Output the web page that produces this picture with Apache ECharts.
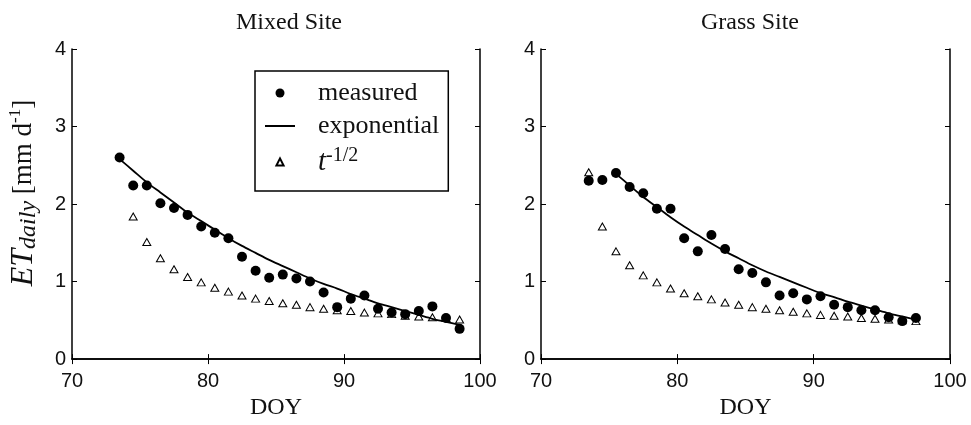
<!DOCTYPE html>
<html>
<head>
<meta charset="utf-8">
<style>
  html, body { margin: 0; padding: 0; background: #fff; }
  #chart { width: 971px; height: 425px; }
</style>
<script src="https://cdn.jsdelivr.net/npm/echarts@6/dist/echarts.min.js"></script>
</head>
<body>
<div id="chart"></div>
<script>
// Day of year for the mixed site record
const doyMixed = [73.5, 74.5, 75.5, 76.5, 77.5, 78.5, 79.5, 80.5, 81.5, 82.5, 83.5, 84.5, 85.5,
                  86.5, 87.5, 88.5, 89.5, 90.5, 91.5, 92.5, 93.5, 94.5, 95.5, 96.5, 97.5, 98.5];
const mixedMeasured = [2.60, 2.24, 2.24, 2.01, 1.95, 1.86, 1.71, 1.63, 1.56, 1.32, 1.14, 1.05, 1.09,
                       1.04, 1.00, 0.86, 0.67, 0.78, 0.82, 0.65, 0.60, 0.58, 0.62, 0.68, 0.53, 0.39];
const mixedExponential = [2.58, 2.43, 2.28, 2.15, 2.02, 1.89, 1.78, 1.67, 1.56, 1.46, 1.37, 1.28, 1.20,
                          1.12, 1.04, 0.97, 0.91, 0.84, 0.78, 0.72, 0.67, 0.62, 0.57, 0.52, 0.48, 0.44];
const mixedSqrt = [null, 1.84, 1.51, 1.30, 1.16, 1.06, 0.99, 0.92, 0.87, 0.82, 0.78, 0.75, 0.72,
                   0.70, 0.67, 0.65, 0.63, 0.62, 0.60, 0.59, 0.58, 0.56, 0.55, 0.54, 0.53, 0.51];

// Day of year for the grass site record
const doyGrass = [73.5, 74.5, 75.5, 76.5, 77.5, 78.5, 79.5, 80.5, 81.5, 82.5, 83.5, 84.5, 85.5,
                  86.5, 87.5, 88.5, 89.5, 90.5, 91.5, 92.5, 93.5, 94.5, 95.5, 96.5, 97.5];
const grassMeasured = [2.30, 2.31, 2.40, 2.22, 2.14, 1.94, 1.94, 1.56, 1.39, 1.60, 1.42, 1.16, 1.11,
                       0.99, 0.82, 0.85, 0.77, 0.81, 0.70, 0.67, 0.63, 0.63, 0.54, 0.49, 0.53];
const grassSqrt = [2.41, 1.71, 1.39, 1.21, 1.08, 0.99, 0.91, 0.85, 0.81, 0.77, 0.73, 0.70, 0.67,
                   0.65, 0.63, 0.61, 0.59, 0.57, 0.56, 0.55, 0.53, 0.52, 0.51, 0.50, 0.49];
const doyGrassFit = [75.5, 76.5, 77.5, 78.5, 79.5, 80.5, 81.5, 82.5, 83.5, 84.5, 85.5, 86.5,
                     87.5, 88.5, 89.5, 90.5, 91.5, 92.5, 93.5, 94.5, 95.5, 96.5, 97.5];
const grassExponential = [2.39, 2.24, 2.09, 1.96, 1.83, 1.71, 1.60, 1.49, 1.39, 1.30, 1.21, 1.13,
                          1.06, 0.99, 0.92, 0.85, 0.80, 0.74, 0.69, 0.64, 0.59, 0.55, 0.51];

const panelTitles = ['Mixed Site', 'Grass Site'];
const xTicks = { min: 70, max: 100, step: 10 };
const yTicks = { min: 0, max: 4, step: 1 };

function pairs(xs, ys) {
  const out = [];
  xs.forEach((x, i) => { if (ys[i] != null) out.push([x, ys[i]]); });
  return out;
}

const serif = '"Liberation Serif", "Times New Roman", serif';
const sans = '"Liberation Sans", Arial, sans-serif';
const ink = '#000';

function xAxes(gridIndex) {
  const base = {
    type: 'value', gridIndex,
    min: xTicks.min, max: xTicks.max, interval: xTicks.step,
    splitLine: { show: false },
    axisLine: { show: true, lineStyle: { color: ink, width: 1.5 } },
    axisTick: { show: true, inside: true, length: 5, lineStyle: { color: ink, width: 1 } }
  };
  return [
    Object.assign({}, base, {
      position: 'bottom',
      axisLabel: { fontFamily: sans, fontSize: 20, color: '#111', margin: 12 },
      name: 'DOY', nameLocation: 'middle', nameGap: 33,
      nameTextStyle: { fontFamily: serif, fontSize: 24, color: '#111' }
    }),
    Object.assign({}, base, { position: 'top', axisLabel: { show: false } })
  ];
}

function yAxes(gridIndex, withName) {
  const base = {
    type: 'value', gridIndex,
    min: yTicks.min, max: yTicks.max, interval: yTicks.step,
    splitLine: { show: false },
    axisLine: { show: true, lineStyle: { color: ink, width: 1.5 } },
    axisTick: { show: true, inside: true, length: 5, lineStyle: { color: ink, width: 1 } }
  };
  const left = Object.assign({}, base, {
    position: 'left',
    axisLabel: { fontFamily: sans, fontSize: 20, color: '#111', margin: 6 }
  });
  if (withName) {
    Object.assign(left, {
      name: '{it|ET}{sub|daily}{n| [mm d}{sup|-1}{n|]}',
      nameLocation: 'middle', nameGap: 31,
      nameTextStyle: {
        color: '#111',
        padding: [0, 0, 0, 22],
        rich: {
          it: { fontFamily: serif, fontStyle: 'italic', fontSize: 32, lineHeight: 34, color: '#111' },
          sub: { fontFamily: serif, fontStyle: 'italic', fontSize: 24, lineHeight: 16, verticalAlign: 'bottom', color: '#111' },
          n: { fontFamily: serif, fontSize: 27, lineHeight: 30, color: '#111' },
          sup: { fontFamily: serif, fontSize: 17, lineHeight: 12, verticalAlign: 'top', color: '#111' }
        }
      }
    });
  }
  return [left, Object.assign({}, base, { position: 'right', axisLabel: { show: false } })];
}

function panelSeries(axisIdx, doy, measured, fitDoy, fit, sqrt) {
  return [
    {
      name: 'measured', type: 'scatter', xAxisIndex: axisIdx, yAxisIndex: axisIdx,
      symbol: 'circle', symbolSize: 10,
      itemStyle: { color: ink, opacity: 1 },
      data: pairs(doy, measured), z: 3
    },
    {
      name: 'exponential', type: 'line', xAxisIndex: axisIdx, yAxisIndex: axisIdx,
      symbol: 'none', smooth: 0.3,
      lineStyle: { color: ink, width: 1.8 },
      itemStyle: { color: ink },
      data: pairs(fitDoy, fit), z: 4
    },
    {
      // symbols only: the connecting line is hidden
      name: 't-1/2', type: 'line', xAxisIndex: axisIdx, yAxisIndex: axisIdx,
      symbol: 'triangle', symbolSize: [8, 7], showSymbol: true, showAllSymbol: true,
      lineStyle: { width: 0, opacity: 0 },
      itemStyle: { color: 'rgba(255,255,255,0)', borderColor: ink, borderWidth: 1, opacity: 1 },
      data: pairs(doy, sqrt), z: 5
    }
  ];
}

const chart = echarts.init(document.getElementById('chart'), null, { renderer: 'canvas' });

chart.setOption({
  animation: false,
  backgroundColor: '#fff',
  title: [
    { text: panelTitles[0], left: 284, top: 6, textAlign: 'center',
      textStyle: { fontFamily: serif, fontSize: 24, fontWeight: 'normal', color: '#111' } },
    { text: panelTitles[1], left: 745, top: 6, textAlign: 'center',
      textStyle: { fontFamily: serif, fontSize: 24, fontWeight: 'normal', color: '#111' } }
  ],
  grid: [
    { left: 72, top: 49, width: 408, height: 320 },
    { left: 541, top: 49, width: 409, height: 320 }
  ],
  xAxis: [].concat(xAxes(0), xAxes(1)),
  yAxis: [].concat(yAxes(0, true), yAxes(1, false)),
  legend: {
    orient: 'vertical', left: 255, top: 71,
    padding: [9, 9, 13, 9], itemGap: 7,
    itemWidth: 30, itemHeight: 9,
    borderColor: ink, borderWidth: 1.5, backgroundColor: '#fff',
    selectedMode: false,
    data: [
      { name: 'measured', icon: 'circle' },
      { name: 'exponential', itemStyle: { opacity: 0 } },
      { name: 't-1/2' }
    ],
    formatter: function (name) {
      return name === 't-1/2' ? '{it|t}{sup|-1/2}' : name;
    },
    textStyle: {
      fontFamily: serif, fontSize: 26, lineHeight: 26, color: '#111',
      padding: [0, 0, 0, 18],
      rich: {
        it: { fontFamily: serif, fontStyle: 'italic', fontSize: 29, lineHeight: 32, color: '#111' },
        sup: { fontFamily: serif, fontSize: 20, lineHeight: 16, verticalAlign: 'top', color: '#111' }
      }
    }
  },
  series: [].concat(
    panelSeries(0, doyMixed, mixedMeasured, doyMixed, mixedExponential, mixedSqrt),
    panelSeries(2, doyGrass, grassMeasured, doyGrassFit, grassExponential, grassSqrt)
  )
});
</script>
</body>
</html>
